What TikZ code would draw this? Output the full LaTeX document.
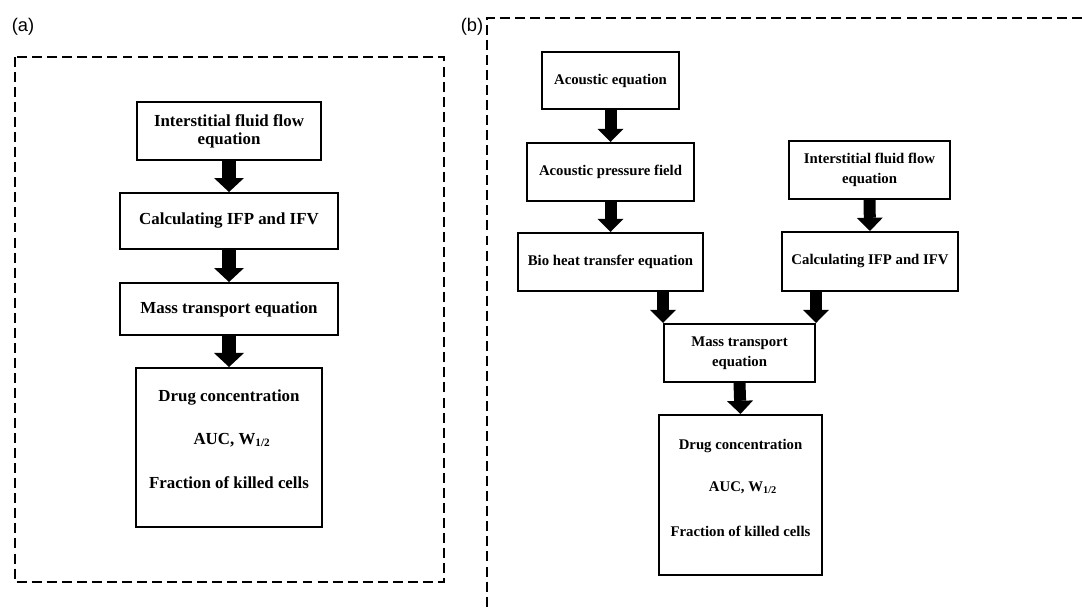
\documentclass[tikz,border=0pt]{standalone}
\usepackage{fontspec}
\setmainfont{Liberation Serif}
\newfontfamily\labfont{Liberation Sans}
\usetikzlibrary{arrows.meta}
\begin{document}
\begin{tikzpicture}[x=0.025cm,y=-0.025cm,
  boxa/.style={draw,line width=1.4pt,align=center,inner sep=0pt,font=\bfseries\fontsize{12}{13}\selectfont},
  boxb/.style={draw,line width=1.4pt,align=center,inner sep=0pt,font=\bfseries\fontsize{10.5}{14.5}\selectfont},
  txta/.style={inner sep=0pt,font=\bfseries\fontsize{12}{13}\selectfont},
  txtb/.style={inner sep=0pt,font=\bfseries\fontsize{10.5}{14.5}\selectfont},
  frame/.style={line width=1.9pt,dash pattern=on 7.1pt off 3.6pt},
  fata/.style={line width=0.35cm,-{Triangle[length=0.35cm,width=0.75cm,line width=0pt]}},
  fatb/.style={line width=0.30cm,-{Triangle[length=0.33cm,width=0.65cm,line width=0pt]}},
  plab/.style={inner sep=0pt,font=\labfont\fontsize{13}{15}\selectfont}]
\useasboundingbox (0,0) rectangle (1082,609);
\fill[white] (0,0) rectangle (1082,609);

% ---------- panel (a) ----------
\node[plab] (la) at (23,27) {(a)};
\draw[frame] (15,57) rectangle (444,582);

\node[boxa,minimum width=4.6cm,minimum height=1.45cm] (ifa) at (229,131) {Interstitial fluid flow\\equation};
\node[boxa,minimum width=5.425cm,minimum height=1.4cm] (calca) at (229,221) {Calculating IFP and IFV};
\node[boxa,minimum width=5.45cm,minimum height=1.3cm] (massa) at (229,309) {Mass transport equation};
\node[boxa,minimum width=4.65cm,minimum height=3.975cm] (druga) at (229,447.5) {};
\node[txta] (da1) at (229,398) {Drug concentration};
\node[txta] (da2) at (232,440) {AUC, W\textsubscript{1/2}};
\node[txta] (da3) at (229,483) {Fraction of killed cells};

\draw[fata] (ifa.south) -- (calca.north);
\draw[fata] (calca.south) -- (massa.north);
\draw[fata] (massa.south) -- (druga.north);

% ---------- panel (b) ----------
\node[plab] (lb) at (472,27) {(b)};
\coordinate (ftr) at (1082,18);
\coordinate (ftl) at (487,18);
\coordinate (fbl) at (487,609);
\draw[frame] (ftr) -- (ftl) -- (fbl);

\node[boxb,minimum width=3.425cm,minimum height=1.425cm] (acou) at (610.5,80.5) {Acoustic equation};
\node[boxb,minimum width=4.175cm,minimum height=1.45cm] (press) at (610.5,172) {Acoustic pressure field};
\node[boxb,minimum width=4.625cm,minimum height=1.45cm] (bio) at (610.5,262) {Bio heat transfer equation};
\node[boxb,minimum width=4.025cm,minimum height=1.45cm] (ifb) at (869.5,170) {Interstitial fluid flow\\equation};
\node[boxb,minimum width=4.4cm,minimum height=1.475cm] (calcb) at (870,261.5) {Calculating IFP and IFV};
\node[boxb,minimum width=3.775cm,minimum height=1.45cm] (massb) at (739.5,353) {Mass transport\\equation};
\node[boxb,minimum width=4.075cm,minimum height=4.0cm] (drugb) at (740.5,495) {};
\node[txtb] (db1) at (740.5,446) {Drug concentration};
\node[txtb] (db2) at (743,488) {AUC, W\textsubscript{1/2}};
\node[txtb] (db3) at (740.5,531) {Fraction of killed cells};

\draw[fatb] (acou.south) -- (press.north);
\draw[fatb] (press.south) -- (bio.north);
\draw[fatb] (ifb.south) -- (calcb.north);
\draw[fatb] (massb.north west |- bio.south) -- (massb.north west);
\draw[fatb] (massb.north east |- calcb.south) -- (massb.north east);
\draw[fatb] (massb.south) -- (drugb.north);
\end{tikzpicture}
\end{document}
